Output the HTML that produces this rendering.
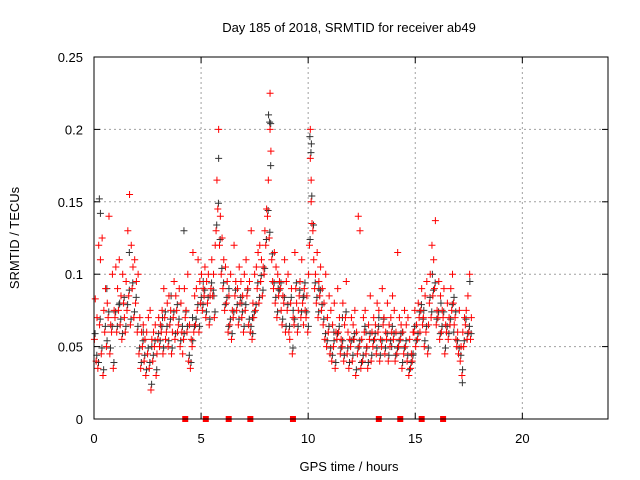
<!DOCTYPE html>
<html><head><meta charset="utf-8"><style>
body{margin:0;background:#fff;}
svg{display:block;font-family:"Liberation Sans",sans-serif;}
</style></head><body>
<svg id="chart" width="640" height="480" viewBox="0 0 640 480" xmlns="http://www.w3.org/2000/svg">
<rect width="640" height="480" fill="#fff"/>
<text x="349" y="32" font-size="13" text-anchor="middle">Day 185 of 2018, SRMTID for receiver ab49</text>
<text transform="translate(19,238) rotate(-90)" font-size="13" text-anchor="middle">SRMTID / TECUs</text>
<text x="349" y="471" font-size="13" text-anchor="middle">GPS time / hours</text>
<g id="grid"></g>
<g id="ticks"></g>
<g id="black"></g>
<g id="red"></g>
<g id="marks"></g>
<rect x="94" y="57" width="514" height="362" fill="none" stroke="#000" stroke-width="1"/>
</svg>
<script>
const xTicks=[0,5,10,15,20];
const yTicks=[0,0.05,0.1,0.15,0.2,0.25];
const yTickLabels=["0","0.05","0.1","0.15","0.2","0.25"];
const redHours=[0.02,0.1,0.18,0.26,0.34,0.42,0.5,0.58,0.66,0.74,0.82,0.9,0.98,
1.06,1.14,1.22,1.3,1.38,1.46,1.54,1.62,1.7,1.78,1.86,1.94,
2.02,2.1,2.18,2.26,2.34,2.42,2.5,2.58,2.66,2.74,2.82,2.9,2.98,
3.06,3.14,3.22,3.3,3.38,3.46,3.54,3.62,3.7,3.78,3.86,3.94,
4.02,4.1,4.18,4.26,4.34,4.42,4.5,4.58,4.66,4.74,4.82,4.9,4.98,
5.06,5.14,5.22,5.3,5.38,5.46,5.54,5.62,5.7,5.78,5.86,5.94,
6.02,6.1,6.18,6.26,6.34,6.42,6.5,6.58,6.66,6.74,6.82,6.9,6.98,
7.06,7.14,7.22,7.3,7.38,7.46,7.54,7.62,7.7,7.78,7.86,7.94,
8.02,8.1,8.18,8.22,8.3,8.38,8.46,8.54,8.62,8.7,8.78,8.86,8.94,
9.02,9.1,9.18,9.26,9.34,9.42,9.5,9.58,9.66,9.74,9.82,9.9,9.98,
10.06,10.1,10.14,10.22,10.3,10.38,10.46,10.54,10.62,10.7,10.78,10.86,10.94,
11.02,11.1,11.18,11.26,11.34,11.42,11.5,11.58,11.66,11.74,11.82,11.9,11.98,
12.06,12.14,12.22,12.3,12.38,12.46,12.54,12.62,12.7,12.78,12.86,12.94,
13.02,13.1,13.18,13.26,13.34,13.42,13.5,13.58,13.66,13.74,13.82,13.9,13.98,
14.06,14.14,14.22,14.3,14.38,14.46,14.54,14.62,14.7,14.78,14.86,14.94,
15.02,15.1,15.18,15.26,15.34,15.42,15.5,15.58,15.66,15.74,15.82,15.9,15.98,
16.06,16.14,16.22,16.3,16.38,16.46,16.54,16.62,16.7,16.78,16.86,16.94,17.02,17.1,17.18,17.26,17.34,17.42,17.5,17.58];
const redValuesA=[0.055,0.04,0.035,0.065,0.045,0.03,0.06,0.05,0.07,0.045,0.06,0.035,0.07,
0.06,0.075,0.065,0.055,0.08,0.06,0.075,0.085,0.065,0.09,0.07,0.08,
0.06,0.045,0.035,0.05,0.04,0.03,0.045,0.035,0.02,0.04,0.05,0.03,0.055,
0.05,0.06,0.045,0.07,0.06,0.05,0.065,0.045,0.07,0.055,0.075,0.065,
0.05,0.06,0.055,0.07,0.06,0.04,0.035,0.05,0.06,0.065,0.075,0.06,0.08,
0.075,0.085,0.07,0.08,0.065,0.09,0.085,0.07,0.13,0.145,0.12,0.1,
0.09,0.075,0.08,0.06,0.065,0.055,0.07,0.085,0.075,0.065,0.08,0.07,0.06,
0.075,0.085,0.065,0.06,0.055,0.07,0.075,0.09,0.08,0.095,0.085,0.1,
0.12,0.14,0.125,0.2,0.11,0.09,0.08,0.07,0.085,0.09,0.065,0.08,0.06,
0.075,0.06,0.08,0.045,0.065,0.09,0.06,0.085,0.07,0.08,0.09,0.07,0.06,
0.12,0.18,0.15,0.13,0.09,0.08,0.07,0.085,0.075,0.065,0.055,0.05,0.06,
0.045,0.04,0.05,0.035,0.055,0.06,0.045,0.05,0.04,0.07,0.045,0.035,0.05,
0.04,0.055,0.03,0.045,0.05,0.035,0.04,0.06,0.045,0.035,0.055,0.04,
0.05,0.055,0.045,0.06,0.04,0.05,0.065,0.045,0.055,0.04,0.05,0.06,0.055,
0.04,0.045,0.05,0.055,0.035,0.045,0.05,0.04,0.03,0.035,0.04,0.06,
0.05,0.055,0.07,0.075,0.065,0.05,0.06,0.045,0.08,0.07,0.085,0.09,0.065,
0.07,0.055,0.06,0.07,0.045,0.06,0.055,0.065,0.075,0.08,0.07,0.05,0.045,0.04,0.03,0.05,0.065,0.055,0.06,0.055];
const redValuesB=[0.083,0.07,0.12,0.11,0.125,0.075,0.09,0.08,0.14,0.065,0.1,0.075,0.105,
0.09,0.11,0.085,0.1,0.07,0.095,0.13,0.155,0.12,0.105,0.11,0.095,
0.1,0.07,0.06,0.065,0.055,0.06,0.07,0.075,0.055,0.06,0.065,0.045,0.07,
0.065,0.075,0.09,0.055,0.08,0.085,0.075,0.06,0.095,0.085,0.06,0.09,
0.08,0.045,0.09,0.075,0.1,0.065,0.055,0.115,0.085,0.09,0.11,0.095,0.1,
0.09,0.105,0.095,0.1,0.085,0.11,0.1,0.12,0.165,0.2,0.14,0.125,
0.11,0.105,0.095,0.085,0.1,0.075,0.12,0.095,0.09,0.105,0.095,0.085,0.1,
0.11,0.09,0.095,0.13,0.08,0.1,0.105,0.115,0.12,0.11,0.105,0.13,
0.145,0.165,0.225,0.185,0.095,0.115,0.105,0.1,0.095,0.075,0.085,0.11,0.095,
0.1,0.055,0.09,0.07,0.115,0.08,0.075,0.095,0.11,0.065,0.075,0.085,0.1,
0.2,0.165,0.135,0.11,0.1,0.115,0.095,0.105,0.09,0.08,0.1,0.07,0.085,
0.075,0.065,0.08,0.06,0.09,0.07,0.055,0.08,0.065,0.095,0.06,0.055,0.07,
0.065,0.075,0.06,0.14,0.13,0.055,0.07,0.075,0.05,0.065,0.085,0.06,
0.07,0.065,0.08,0.075,0.055,0.09,0.07,0.06,0.08,0.065,0.07,0.085,0.075,
0.06,0.115,0.07,0.065,0.06,0.075,0.065,0.07,0.055,0.045,0.06,0.075,
0.065,0.08,0.06,0.09,0.07,0.085,0.095,0.065,0.1,0.12,0.11,0.137,0.075,
0.095,0.085,0.075,0.09,0.065,0.08,0.07,0.09,0.1,0.065,0.055,0.06,0.075,0.05,0.06,0.07,0.075,0.085,0.1,0.07];
const blackHours=[0.25,0.3,0.6,1.2,1.65,2.3,2.7,3.2,3.6,4.2,4.6,5.1,5.6,5.82,6.3,6.9,7.4,8.15,8.2,8.25,8.6,9.3,9.8,10.08,10.15,10.5,11.2,11.6,12.1,12.7,13.3,13.9,14.4,14.9,15.4,15.8,16.2,16.8,17.2,17.55];
const blackValues=[0.152,0.142,0.09,0.08,0.115,0.06,0.05,0.07,0.085,0.13,0.07,0.095,0.085,0.18,0.09,0.08,0.07,0.21,0.205,0.175,0.09,0.075,0.085,0.195,0.19,0.09,0.06,0.07,0.055,0.06,0.07,0.05,0.06,0.045,0.075,0.1,0.08,0.06,0.025,0.095];
const eventHours=[4.26,5.22,6.29,7.3,9.29,13.3,14.3,15.3,16.3];

const X0=94,X1=608,Y0=419,Y1=57,XMAX=24,YMAX=0.25;
const sx=h=>X0+(X1-X0)*h/XMAX;
const sy=v=>Y0-(Y0-Y1)*v/YMAX;
const NS="http://www.w3.org/2000/svg";
function mk(tag,attrs,parent){const e=document.createElementNS(NS,tag);for(const k in attrs)e.setAttribute(k,attrs[k]);parent.appendChild(e);return e;}
const grid=document.getElementById('grid'),ticks=document.getElementById('ticks');
xTicks.forEach(t=>{
  const x=sx(t);
  if(t>0){const g=mk('line',{x1:x,x2:x,y1:Y1,y2:Y0,stroke:'#a0a0a0','stroke-dasharray':'2,3'},grid);
  
  }
  mk('line',{x1:x,x2:x,y1:Y0,y2:Y0-6,stroke:'#000'},ticks);
  mk('line',{x1:x,x2:x,y1:Y1,y2:Y1+6,stroke:'#000'},ticks);
  const l=mk('text',{x:x,y:443,'font-size':13,'text-anchor':'middle'},ticks);
  l.textContent=String(t);
  
  
});
yTicks.forEach((t,i)=>{
  const y=sy(t);
  if(t>0&&t<YMAX){const g=mk('line',{x1:X0,x2:X1,y1:y,y2:y,stroke:'#a0a0a0','stroke-dasharray':'2,3'},grid);
  
  }
  mk('line',{x1:X0,x2:X0+6,y1:y,y2:y,stroke:'#000'},ticks);
  mk('line',{x1:X1,x2:X1-6,y1:y,y2:y,stroke:'#000'},ticks);
  const l=mk('text',{x:83,y:y+5,'font-size':13,'text-anchor':'end'},ticks);
  l.textContent=yTickLabels[i];
  
  
});
function plus(g,h,v,col){
  const x=sx(h),y=sy(v);
  const p=mk('path',{d:`M${x-3.5} ${y}H${x+3.5}M${x} ${y-3.5}V${y+3.5}`,stroke:col,'stroke-width':1,fill:'none'},g);
  
  
}
const blk=document.getElementById('black'),red=document.getElementById('red');
blackHours.forEach((h,i)=>plus(blk,h,blackValues[i],'#333'));
redHours.forEach((h,i)=>{plus(blk,h+0.03,redValuesA[i]+0.004,'#333');});
redHours.forEach((h,i)=>{plus(red,h,redValuesA[i],'#ff0000');plus(red,h+0.04,redValuesB[i],'#ff0000');});
const marks=document.getElementById('marks');
eventHours.forEach(h=>{
  const r=mk('rect',{x:sx(h)-3,y:Y0-3,width:6,height:6,fill:'#ff0000'},marks);
  
  
});
</script>
</body></html>
